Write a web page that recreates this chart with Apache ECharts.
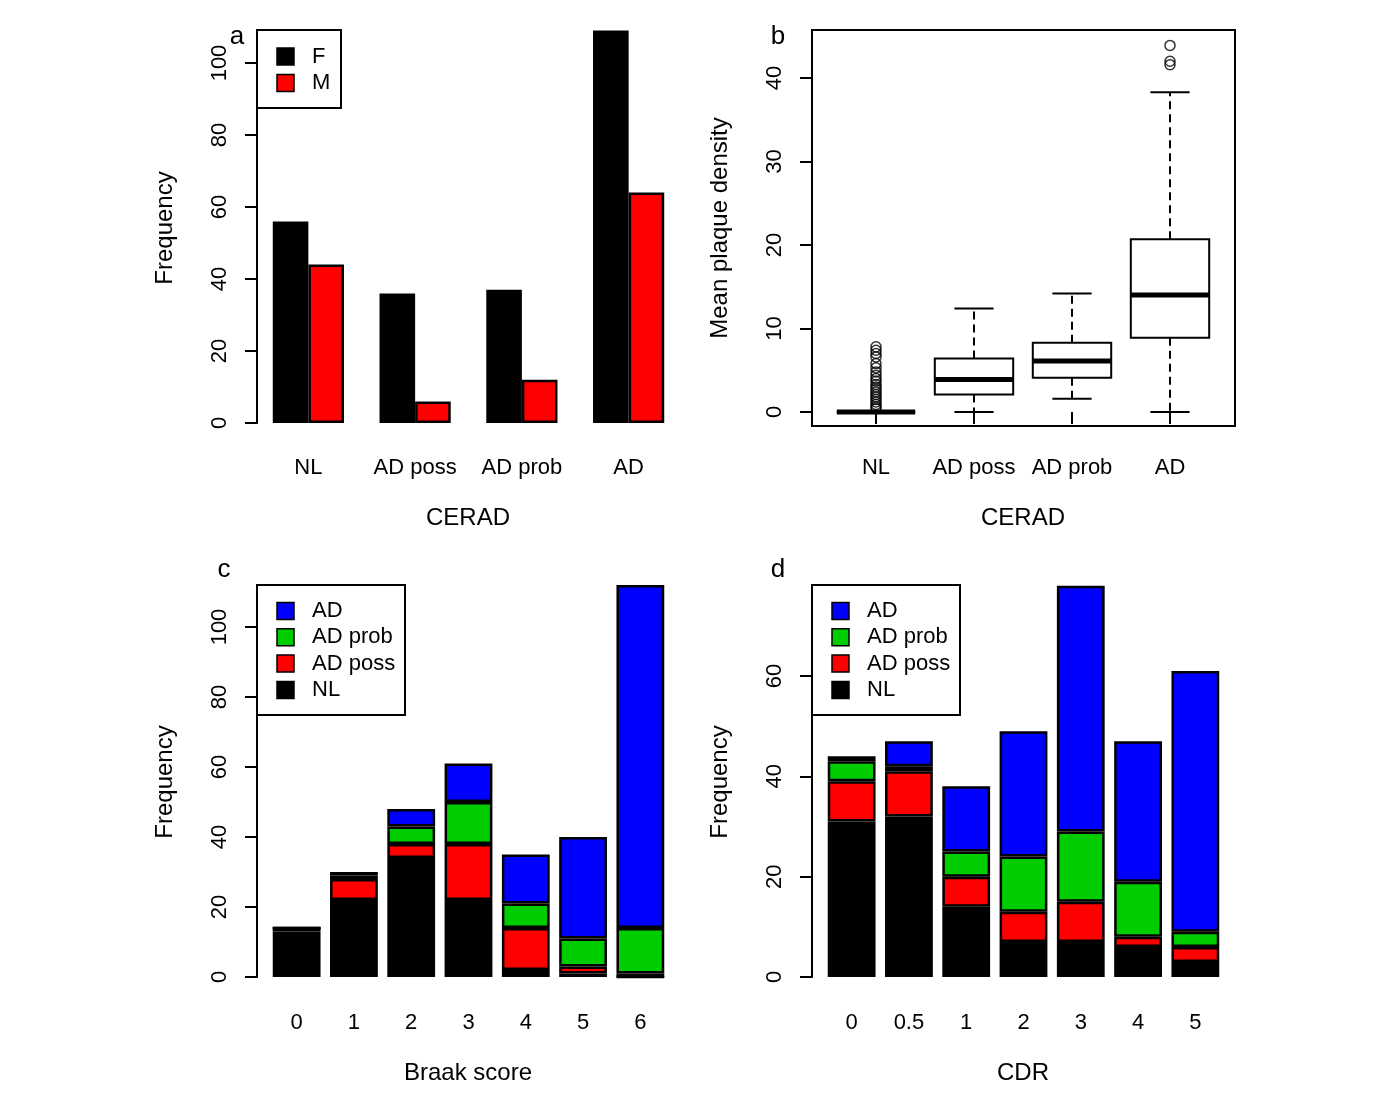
<!DOCTYPE html>
<html><head><meta charset="utf-8">
<script src="https://cdn.jsdelivr.net/npm/echarts@6/dist/echarts.min.js"></script>
<style>html,body{margin:0;padding:0;background:#fff}#c{width:1395px;height:1100px}</style>
</head><body><div id="c"></div>
<script>
// ---------- data ----------
const ceradCats = ['NL', 'AD poss', 'AD prob', 'AD'];
const sexF = [56, 36, 37, 109];
const sexM = [44, 6, 12, 64];
// [low whisker, Q1, median, Q3, high whisker]
const boxStats = [
  [0, 0, 0, 0, 0],
  [0, 2.1, 3.9, 6.4, 12.4],
  [1.6, 4.1, 6.1, 8.3, 14.2],
  [0, 8.9, 14.0, 20.7, 38.3]
];
const nlOutliers = [7.8, 7.4, 7.0, 6.6, 5.8, 5.3, 4.8, 4.4, 4.0, 3.7, 3.3, 3.0, 2.7, 2.4, 2.1, 1.8, 1.5, 1.2, 0.9, 0.6, 0.4];
const adOutliers = [43.9, 42.0, 41.6];
const braakCats = ['0', '1', '2', '3', '4', '5', '6'];
const braakNL = [13, 22, 34, 22, 2, 1, 0];
const braakPoss = [1, 6, 4, 16, 12, 2, 1];
const braakProb = [0, 1, 5, 12, 7, 8, 13];
const braakAD = [0, 1, 5, 11, 14, 29, 98];
const cdrCats = ['0', '0.5', '1', '2', '3', '4', '5'];
const cdrNL = [31, 32, 14, 7, 7, 6, 3];
const cdrPoss = [8, 9, 6, 6, 8, 2, 3];
const cdrProb = [4, 1, 5, 11, 14, 11, 3];
const cdrAD = [1, 5, 13, 25, 49, 28, 52];
const sexLegend = [['F', '#000000'], ['M', '#FF0000']];
const ceradLegend = [['AD', '#0000FF'], ['AD prob', '#00CD00'], ['AD poss', '#FF0000'], ['NL', '#000000']];

// ---------- styling ----------
const FONT = 'Liberation Sans, Arial, Helvetica, sans-serif';
const TICK = 22, TITLE = 24;
const axisLineStyle = { color: '#000', width: 2 };
const BORDER = 2.5;

function yAx(gi, max, interval, offset, extra) {
  return Object.assign({
    type: 'value', gridIndex: gi, min: 0, max: max, interval: interval, offset: offset,
    axisLine: { show: true, lineStyle: axisLineStyle },
    axisTick: { show: true, length: 12, lineStyle: axisLineStyle },
    axisLabel: { rotate: 90, margin: 26, color: '#000', fontSize: TICK, fontFamily: FONT },
    splitLine: { show: false }
  }, extra || {});
}
function xAx(gi, cats, margin, extra) {
  return Object.assign({
    type: 'category', gridIndex: gi, data: cats,
    axisLine: { show: false }, axisTick: { show: false },
    axisLabel: { margin: margin, color: '#000', fontSize: TICK, fontFamily: FONT, interval: 0 },
    splitLine: { show: false }
  }, extra || {});
}

function renderBox(params, api) {
  const i = api.value(0);
  const lo = api.coord([i, api.value(1)]);
  const q1 = api.coord([i, api.value(2)]);
  const md = api.coord([i, api.value(3)]);
  const q3 = api.coord([i, api.value(4)]);
  const hi = api.coord([i, api.value(5)]);
  const bw = api.size([1, 0])[0];
  const half = bw * 0.4, st = bw * 0.2, x = lo[0];
  const ls = { stroke: '#000', lineWidth: 2 };
  const dash = { stroke: '#000', lineWidth: 2, lineDash: [8, 5] };
  return {
    type: 'group', children: [
      { type: 'line', shape: { x1: x, y1: q3[1], x2: x, y2: hi[1] }, style: dash },
      { type: 'line', shape: { x1: x, y1: q1[1], x2: x, y2: lo[1] }, style: dash },
      { type: 'line', shape: { x1: x - st, y1: hi[1], x2: x + st, y2: hi[1] }, style: ls },
      { type: 'line', shape: { x1: x - st, y1: lo[1], x2: x + st, y2: lo[1] }, style: ls },
      { type: 'rect', shape: { x: x - half, y: q3[1], width: 2 * half, height: q1[1] - q3[1] }, style: { fill: '#fff', stroke: '#000', lineWidth: 2 } },
      { type: 'line', shape: { x1: x - half, y1: md[1], x2: x + half, y2: md[1] }, style: { stroke: '#000', lineWidth: 5 } }
    ]
  };
}

function stackBar(name, data, color, xi) {
  return {
    type: 'bar', name: name, data: data, stack: 's' + xi, xAxisIndex: xi, yAxisIndex: xi,
    barWidth: 47.8, clip: false,
    itemStyle: { color: color, borderColor: '#000', borderWidth: BORDER }
  };
}

function legendBox(x, y, w, h, entries, rowY0, pitch) {
  const els = [{ type: 'rect', shape: { x: x, y: y, width: w, height: h }, style: { fill: 'none', stroke: '#000', lineWidth: 2 } }];
  entries.forEach((e, k) => {
    const cy = rowY0 + k * pitch;
    els.push({ type: 'rect', shape: { x: x + 20, y: cy - 8.5, width: 17, height: 17 }, style: { fill: e[1], stroke: '#000', lineWidth: 1.5 } });
    els.push({ type: 'text', style: { text: e[0], x: x + 55, y: cy, fill: '#000', font: TICK + 'px ' + FONT, textAlign: 'left', textVerticalAlign: 'middle' } });
  });
  return els;
}
function txt(t, x, y, size, rot) {
  return { type: 'text', x: x, y: y, rotation: rot || 0, style: { text: t, x: 0, y: 0, fill: '#000', font: size + 'px ' + FONT, textAlign: 'center', textVerticalAlign: 'middle' } };
}

const boxData = boxStats.map((b, i) => [i].concat(b));
const outData = nlOutliers.map(v => [0, v]).concat(adOutliers.map(v => [3, v]));

const option = {
  animation: false,
  backgroundColor: '#fff',
  grid: [
    { left: 255, top: 63, width: 427, height: 360 },
    { left: 827, top: 78, width: 392, height: 334 },
    { left: 268, top: 627, width: 401, height: 350 },
    { left: 823, top: 676, width: 401, height: 301 }
  ],
  xAxis: [
    xAx(0, ceradCats, 34),
    xAx(1, ceradCats, 31, { offset: 14, axisTick: { show: true, length: 12, alignWithLabel: true, lineStyle: axisLineStyle } }),
    xAx(2, braakCats, 35),
    xAx(3, cdrCats, 35)
  ],
  yAxis: [
    yAx(0, 100, 20, -2),
    yAx(1, 40, 10, 15),
    yAx(2, 100, 20, 11),
    yAx(3, 60, 20, 11)
  ],
  series: [
    { type: 'bar', name: 'F', data: sexF, xAxisIndex: 0, yAxisIndex: 0, barWidth: 35.6, barGap: '0%', clip: false, itemStyle: { color: '#000', borderColor: '#000', borderWidth: BORDER } },
    { type: 'bar', name: 'M', data: sexM, xAxisIndex: 0, yAxisIndex: 0, barWidth: 35.6, barGap: '0%', clip: false, itemStyle: { color: '#FF0000', borderColor: '#000', borderWidth: BORDER } },
    { type: 'custom', name: 'box', xAxisIndex: 1, yAxisIndex: 1, data: boxData, encode: { x: 0, y: [1, 2, 3, 4, 5] }, renderItem: renderBox, clip: false, z: 3 },
    { type: 'scatter', name: 'outliers', xAxisIndex: 1, yAxisIndex: 1, data: outData, symbol: 'circle', symbolSize: 10, clip: false, z: 4,
      itemStyle: { color: 'rgba(255,255,255,0)', borderColor: '#000', borderWidth: 1.5 } },
    stackBar('NL', braakNL, '#000000', 2),
    stackBar('AD poss', braakPoss, '#FF0000', 2),
    stackBar('AD prob', braakProb, '#00CD00', 2),
    stackBar('AD', braakAD, '#0000FF', 2),
    stackBar('NL', cdrNL, '#000000', 3),
    stackBar('AD poss', cdrPoss, '#FF0000', 3),
    stackBar('AD prob', cdrProb, '#00CD00', 3),
    stackBar('AD', cdrAD, '#0000FF', 3)
  ],
  graphic: [
    { type: 'rect', shape: { x: 812, y: 30, width: 423, height: 396 }, style: { fill: 'none', stroke: '#000', lineWidth: 2 }, z: 10 }
  ].concat(
    legendBox(257, 30, 84, 78, sexLegend, 56.5, 26.5),
    legendBox(257, 585, 148, 130, ceradLegend, 611, 26.3),
    legendBox(812, 585, 148, 130, ceradLegend, 611, 26.3),
    [
      txt('Frequency', 165, 228, TITLE, Math.PI / 2),
      txt('Mean plaque density', 720, 228, TITLE, Math.PI / 2),
      txt('Frequency', 165, 782, TITLE, Math.PI / 2),
      txt('Frequency', 720, 782, TITLE, Math.PI / 2),
      txt('CERAD', 468, 518, TITLE),
      txt('CERAD', 1023, 518, TITLE),
      txt('Braak score', 468, 1073, TITLE),
      txt('CDR', 1023, 1073, TITLE),
      txt('a', 237, 37, 26),
      txt('b', 778, 37, 26),
      txt('c', 224, 570, 26),
      txt('d', 778, 570, 26)
    ]
  )
};
const chart = echarts.init(document.getElementById('c'));
chart.setOption(option);
</script>
</body></html>
